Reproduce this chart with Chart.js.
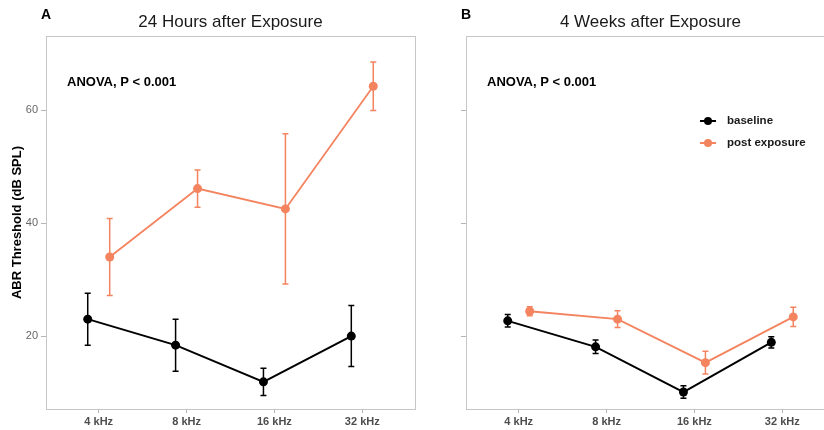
<!DOCTYPE html>
<html>
<head>
<meta charset="utf-8">
<script src="https://cdn.jsdelivr.net/npm/chart.js@4.4.0/dist/chart.umd.min.js"></script>
<style>
html, body { margin: 0; padding: 0; background: #fff; overflow: hidden; width: 824px; height: 430px; }
canvas { position: absolute; top: 0; }
#panelA { left: 0; }
#panelB { left: 420px; }
</style>
</head>
<body>
<canvas id="panelA" width="420" height="430"></canvas>
<canvas id="panelB" width="420" height="430"></canvas>
<script>
const categories = ['4 kHz', '8 kHz', '16 kHz', '32 kHz'];
const yTicks = [20, 40, 60];
const seriesNames = ['baseline', 'post exposure'];

// 24 hours after exposure (mean, error half-width)
const baseline24h = [23.0, 18.4, 11.9, 20.0];
const baseline24hErr = [4.6, 4.6, 2.4, 5.4];
const post24h = [34.0, 46.1, 42.5, 64.2];
const post24hErr = [6.8, 3.3, 13.3, 4.3];

// 4 weeks after exposure
const baseline4w = [22.7, 18.1, 10.1, 18.9];
const baseline4wErr = [1.1, 1.2, 1.1, 1.0];
const post4w = [24.4, 23.0, 15.3, 23.4];
const post4wErr = [0.8, 1.5, 2.0, 1.7];

const BLACK = '#000000';
const ORANGE = '#F4845F';
const DODGE = 0.125;
const FONT = "'Liberation Sans', Arial, sans-serif";

function points(values, shift) {
  return values.map((v, i) => ({ x: i + 1 + shift, y: v }));
}

// error bars drawn with the chart's own scales
const errorBars = {
  id: 'errorBars',
  afterDatasetsDraw(chart) {
    const { ctx, scales: { x, y } } = chart;
    chart.data.datasets.forEach((ds) => {
      ctx.save();
      ctx.strokeStyle = ds.borderColor;
      ctx.lineWidth = 1.5;
      ds.data.forEach((p, j) => {
        const e = ds.errors[j];
        const px = x.getPixelForValue(p.x);
        const top = y.getPixelForValue(p.y + e);
        const bot = y.getPixelForValue(p.y - e);
        ctx.beginPath();
        ctx.moveTo(px, top); ctx.lineTo(px, bot);
        ctx.moveTo(px - 3, top); ctx.lineTo(px + 3, top);
        ctx.moveTo(px - 3, bot); ctx.lineTo(px + 3, bot);
        ctx.stroke();
      });
      ctx.restore();
    });
  }
};

// panel box, letter, ANOVA note and legend
const panelDecor = {
  id: 'panelDecor',
  beforeDatasetsDraw(chart) {
    const { ctx, chartArea: a } = chart;
    ctx.save();
    ctx.strokeStyle = '#c6c6c6';
    ctx.lineWidth = 1;
    ctx.strokeRect(Math.round(a.left) + 0.5, Math.round(a.top) + 0.5,
      Math.round(a.right - a.left), Math.round(a.bottom - a.top));
    ctx.restore();
  },
  afterDraw(chart, args, opts) {
    const { ctx, chartArea: a } = chart;
    ctx.save();
    ctx.fillStyle = '#000';
    ctx.textBaseline = 'middle';
    ctx.textAlign = 'center';
    ctx.font = `bold 14px ${FONT}`;
    ctx.fillText(opts.letter, a.left, 15);
    ctx.textAlign = 'left';
    ctx.font = `bold 13px ${FONT}`;
    ctx.fillText(opts.note, a.left + 21, 82);
    if (opts.legend) {
      ctx.font = `bold 11.5px ${FONT}`;
      chart.data.datasets.forEach((ds, i) => {
        const ly = 121 + i * 22;
        ctx.strokeStyle = ds.borderColor;
        ctx.fillStyle = ds.borderColor;
        ctx.lineWidth = 2;
        ctx.beginPath();
        ctx.moveTo(280, ly); ctx.lineTo(296, ly);
        ctx.stroke();
        ctx.beginPath();
        ctx.arc(288, ly, 4, 0, Math.PI * 2);
        ctx.fill();
        ctx.fillStyle = '#1a1a1a';
        ctx.fillText(ds.label, 307, ly);
      });
    }
    ctx.restore();
  }
};

function makePanel(id, title, letter, baseVals, baseErr, postVals, postErr, showYLabels, showLegend) {
  new Chart(document.getElementById(id), {
    type: 'line',
    data: {
      datasets: [
        {
          label: seriesNames[0],
          data: points(baseVals, -DODGE),
          errors: baseErr,
          borderColor: BLACK,
          backgroundColor: BLACK,
          borderWidth: 2,
          pointRadius: 4.5,
          pointBorderWidth: 0,
          tension: 0
        },
        {
          label: seriesNames[1],
          data: points(postVals, DODGE),
          errors: postErr,
          borderColor: ORANGE,
          backgroundColor: ORANGE,
          borderWidth: 1.8,
          pointRadius: 4.5,
          pointBorderWidth: 0,
          tension: 0
        }
      ]
    },
    options: {
      responsive: false,
      animation: false,
      events: [],
      layout: { padding: { left: 0, right: 5, top: 0, bottom: 0 } },
      scales: {
        x: {
          type: 'linear',
          min: 0.4,
          max: 4.6,
          afterBuildTicks: (s) => { s.ticks = categories.map((c, i) => ({ value: i + 1 })); },
          afterFit: (s) => { s.height = 21; },
          ticks: {
            callback: (v) => categories[Math.round(v) - 1],
            font: { family: FONT, size: 11, weight: 'bold' },
            color: '#4d4d4d',
            padding: 2,
            maxRotation: 0
          },
          grid: { drawOnChartArea: false, drawTicks: true, tickLength: 4, color: '#b5b5b5' },
          border: { display: false }
        },
        y: {
          type: 'linear',
          min: 7.1,
          max: 73.1,
          afterBuildTicks: (s) => { s.ticks = yTicks.map(v => ({ value: v })); },
          afterFit: (s) => { s.width = 46; },
          ticks: {
            callback: (v) => showYLabels ? String(v) : '',
            font: { family: FONT, size: 11 },
            color: '#666666',
            padding: 3
          },
          grid: { drawOnChartArea: false, drawTicks: true, tickLength: 5, color: '#b5b5b5' },
          border: { display: false },
          title: {
            display: showYLabels,
            text: 'ABR Threshold (dB SPL)',
            font: { family: FONT, size: 13, weight: 'bold' },
            color: '#000',
            padding: { top: 10, bottom: 0 }
          }
        }
      },
      plugins: {
        legend: { display: false },
        tooltip: { enabled: false },
        title: {
          display: true,
          text: title,
          fullSize: false,
          font: { family: FONT, size: 17, weight: 'normal' },
          color: '#1a1a1a',
          padding: { top: 12, bottom: 3.6 }
        },
        panelDecor: { letter: letter, note: 'ANOVA, P < 0.001', legend: showLegend }
      }
    },
    plugins: [panelDecor, errorBars]
  });
}

makePanel('panelA', '24 Hours after Exposure', 'A', baseline24h, baseline24hErr, post24h, post24hErr, true, false);
makePanel('panelB', '4 Weeks after Exposure', 'B', baseline4w, baseline4wErr, post4w, post4wErr, false, true);
</script>
</body>
</html>
